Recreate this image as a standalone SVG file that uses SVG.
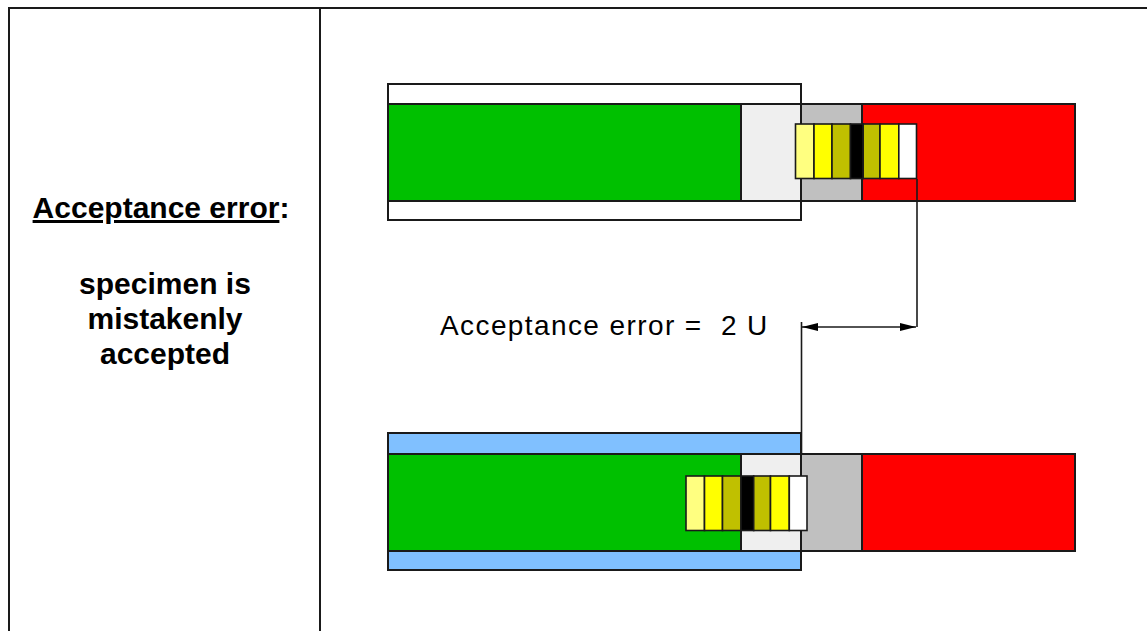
<svg xmlns="http://www.w3.org/2000/svg" xmlns:xlink="http://www.w3.org/1999/xlink" width="1147" height="631" viewBox="0 0 1147 631">
  <style>
    .frame { stroke: #1a1a1a; stroke-width: 2; fill: none; }
    .box { stroke: #1a1a1a; stroke-width: 2; }
    .seg { stroke: #1a1a1a; stroke-width: 1.6; }
    .wire { stroke: #1a1a1a; stroke-width: 1.6; fill: none; }
    .head { font-family: "Liberation Sans", Arial, sans-serif; font-weight: bold; font-size: 30px; fill: #000; text-anchor: middle; }
    .label { font-family: "Liberation Sans", Arial, sans-serif; font-size: 28px; fill: #000; letter-spacing: 1.4px; white-space: pre; }
  </style>
  <defs>
    <!-- graded uncertainty strip, 7 bands -->
    <g id="strip">
      <rect class="seg" x="0" y="0" width="18.5" height="54.5" fill="#FFFF80"/>
      <rect class="seg" x="18.5" y="0" width="18" height="54.5" fill="#FFFF00"/>
      <rect class="seg" x="36.5" y="0" width="18.5" height="54.5" fill="#C0C000"/>
      <rect class="seg" x="55" y="0" width="12.7" height="54.5" fill="#000000"/>
      <rect class="seg" x="67.7" y="0" width="16.8" height="54.5" fill="#C0C000"/>
      <rect class="seg" x="84.5" y="0" width="18.8" height="54.5" fill="#FFFF00"/>
      <rect class="seg" x="103.3" y="0" width="17.7" height="54.5" fill="#FFFFFF"/>
    </g>
    <marker id="arrow" viewBox="0 0 16 8" refX="16" refY="4" markerWidth="16" markerHeight="8" markerUnits="userSpaceOnUse" orient="auto-start-reverse">
      <path d="M0,0 L16,4 L0,8 Z" fill="#000"/>
    </marker>
  </defs>

  <rect width="1147" height="631" fill="#fff"/>

  <!-- table frame -->
  <g id="frame">
    <path class="frame" d="M9,631 V8 H1147"/>
    <line class="frame" x1="320" y1="8" x2="320" y2="631"/>
  </g>

  <!-- left column caption -->
  <g id="caption">
    <text class="head" x="161" y="218"><tspan text-decoration="underline">Acceptance error</tspan>:</text>
    <text class="head" x="165" y="294">specimen is</text>
    <text class="head" x="165" y="329">mistakenly</text>
    <text class="head" x="165" y="364">accepted</text>
  </g>

  <!-- upper scale: measured value -->
  <g id="upper-scale">
    <rect class="box" x="388" y="84" width="413" height="136" fill="#FFFFFF"/>
    <rect class="box" x="388" y="104" width="353" height="97" fill="#00C000"/>
    <rect class="box" x="741" y="104" width="60" height="97" fill="#EFEFEF"/>
    <rect class="box" x="801" y="104" width="61" height="97" fill="#C0C0C0"/>
    <rect class="box" x="862" y="104" width="213" height="97" fill="#FF0000"/>
    <line class="frame" x1="801" y1="84" x2="801" y2="220"/>
    <use xlink:href="#strip" x="795.5" y="124"/>
  </g>

  <!-- lower scale: accepted value -->
  <g id="lower-scale">
    <rect class="box" x="388" y="433" width="413" height="137" fill="#80C0FF"/>
    <rect class="box" x="388" y="454" width="353" height="97" fill="#00C000"/>
    <rect class="box" x="741" y="454" width="60" height="97" fill="#EFEFEF"/>
    <rect class="box" x="801" y="454" width="61" height="97" fill="#C0C0C0"/>
    <rect class="box" x="862" y="454" width="213" height="97" fill="#FF0000"/>
    <use xlink:href="#strip" x="686" y="476"/>
  </g>

  <!-- dimension lines -->
  <g id="connectors">
    <line class="wire" x1="917" y1="179" x2="917" y2="327"/>
    <line class="wire" x1="801.5" y1="322" x2="801.5" y2="454"/>
    <line class="wire" x1="802" y1="327" x2="916" y2="327" marker-start="url(#arrow)" marker-end="url(#arrow)"/>
  </g>

  <g id="dimension-label">
    <text class="label" x="440" y="335">Acceptance error =  2 U</text>
  </g>
</svg>
